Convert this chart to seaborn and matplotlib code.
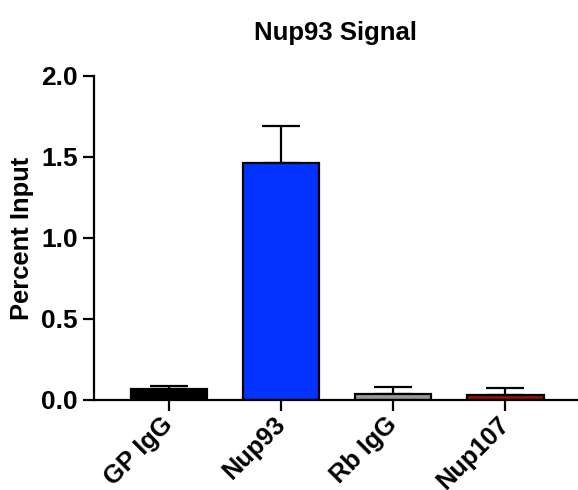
import numpy as np
import pandas as pd
import matplotlib
matplotlib.use("Agg")
import matplotlib.pyplot as plt
import seaborn as sns

groups = ["GP IgG", "Nup93", "Rb IgG", "Nup107"]
mean_input = [0.065, 1.465, 0.035, 0.032]
sem_input = [0.023, 0.228, 0.048, 0.040]
bar_colors = ["#000000", "#0433FF", "#999999", "#941100"]

sns.set_style("ticks", {"axes.edgecolor": "black", "text.color": "black",
                        "xtick.color": "black", "ytick.color": "black",
                        "axes.labelcolor": "black"})
plt.rcParams["font.family"] = ["Liberation Sans", "DejaVu Sans"]
plt.rcParams["font.weight"] = "bold"

df = pd.DataFrame({"group": groups, "pct": mean_input})

fig = plt.figure(figsize=(5.78, 4.9), dpi=100)
ax = fig.add_axes([0.1626, 0.1837, 0.836, 0.6613])

sns.barplot(data=df, x="group", y="pct", hue="group", palette=bar_colors,
            order=groups, hue_order=groups, width=0.68, edgecolor="black",
            linewidth=1.6, legend=False, errorbar=None, saturation=1,
            ax=ax, zorder=2)

# upper-only SEM bars, like the GraphPad original
xpos = np.arange(len(groups))
ax.errorbar(xpos, mean_input, yerr=[np.zeros(len(groups)), sem_input],
            fmt="none", ecolor="black", elinewidth=1.6, capsize=14,
            capthick=1.6, zorder=1)

ax.set_ylim(0, 2.0)
ax.set_xlim(-0.67, 3.64)
ax.set_yticks([0.0, 0.5, 1.0, 1.5, 2.0])
ax.set_yticklabels(["0.0", "0.5", "1.0", "1.5", "2.0"])
ax.set_xlabel("")
ax.set_ylabel("Percent Input", fontsize=18.4, fontweight="bold", labelpad=5)
ax.set_title("Nup93 Signal", fontsize=18.5, fontweight="bold", pad=26)

ax.tick_params(axis="both", length=8, width=1.6)
ax.tick_params(axis="y", pad=3.5, labelsize=19)
ax.tick_params(axis="x", pad=7, labelsize=18.3)
for lbl in ax.get_xticklabels():
    lbl.set_rotation(45)
    lbl.set_ha("right")
    lbl.set_va("center")
    lbl.set_rotation_mode("anchor")
    lbl.set_fontweight("bold")
for lbl in ax.get_yticklabels():
    lbl.set_fontweight("bold")

for side in ["top", "right"]:
    ax.spines[side].set_visible(False)
for side in ["left", "bottom"]:
    ax.spines[side].set_linewidth(1.6)

fig.savefig("out.png", dpi=100)
